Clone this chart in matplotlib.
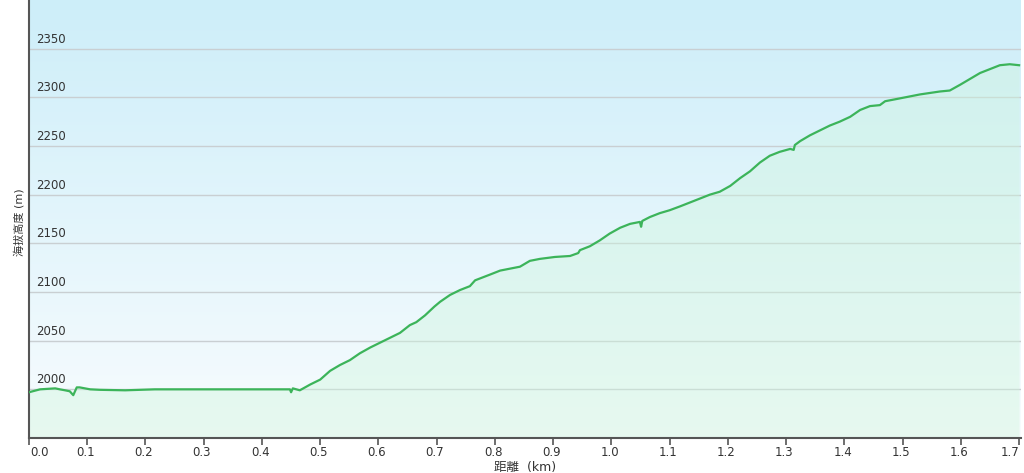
import numpy as np
import matplotlib
matplotlib.use('Agg')
import matplotlib.pyplot as plt
from matplotlib.colors import LinearSegmentedColormap

distancia_km = [0.000, 0.019, 0.045, 0.053, 0.062, 0.070, 0.076, 0.082, 0.087, 0.105,
                0.122, 0.165, 0.216, 0.300, 0.448, 0.450, 0.453, 0.465, 0.483, 0.500,
                0.517, 0.534, 0.551, 0.568, 0.586, 0.603, 0.620, 0.637, 0.654, 0.665,
                0.680, 0.696, 0.706, 0.723, 0.740, 0.757, 0.766, 0.792, 0.809, 0.826,
                0.843, 0.860, 0.877, 0.903, 0.929, 0.943, 0.946, 0.963, 0.980, 0.997,
                1.015, 1.032, 1.049, 1.051, 1.053, 1.066, 1.083, 1.100, 1.118, 1.152,
                1.169, 1.186, 1.204, 1.221, 1.238, 1.255, 1.272, 1.289, 1.307, 1.313,
                1.315, 1.324, 1.341, 1.358, 1.375, 1.392, 1.410, 1.427, 1.444, 1.461,
                1.470, 1.496, 1.530, 1.564, 1.581, 1.599, 1.616, 1.633, 1.650, 1.667,
                1.684, 1.700]
altitud_m = [1997, 2000, 2001, 2000, 1999, 1998, 1994, 2002, 2002, 2000,
             1999.5, 1999, 2000, 2000, 2000, 1997, 2001, 1999, 2005, 2010,
             2019, 2025, 2030, 2037, 2043, 2048, 2053, 2058, 2066, 2069,
             2076, 2085, 2090, 2097, 2102, 2106, 2112, 2118, 2122, 2124,
             2126, 2132, 2134, 2136, 2137, 2140, 2143, 2147, 2153, 2160,
             2166, 2170, 2172, 2167, 2173, 2177, 2181, 2184, 2188, 2196,
             2200, 2203, 2209, 2217, 2224, 2233, 2240, 2244, 2247, 2246,
             2251, 2255, 2261, 2266, 2271, 2275, 2280, 2287, 2291, 2292,
             2296, 2299, 2303, 2306, 2307, 2313, 2319, 2325, 2329, 2333,
             2334, 2333]

marcas_x = [0.0, 0.1, 0.2, 0.3, 0.4, 0.5, 0.6, 0.7, 0.8, 0.9, 1.0, 1.1, 1.2, 1.3, 1.4, 1.5, 1.6, 1.7]
marcas_y = [2000, 2050, 2100, 2150, 2200, 2250, 2300, 2350]

fuentes = ['DejaVu Sans', 'Noto Sans CJK JP']

fig = plt.figure(figsize=(10.24, 4.73), dpi=100)
ax = fig.add_axes([29 / 1024, 35 / 473, 992 / 1024, 438 / 473])

x_max = 1.7033
y_min, y_max = 1950, 2400

# Fondo degradado azul claro -> blanco
degradado = np.linspace(0, 1, 256).reshape(-1, 1)
cmap_fondo = LinearSegmentedColormap.from_list('fondo', ['#f8fcfe', '#cdeef9'])
ax.imshow(degradado, aspect='auto', cmap=cmap_fondo, origin='lower',
          extent=[0, x_max, y_min, y_max], zorder=0)

# Líneas de la cuadrícula
for v in marcas_y:
    ax.axhline(v, color='#c9cfd2', linewidth=1.0, zorder=1)

# Área bajo la curva y la curva
ax.fill_between(distancia_km, altitud_m, y_min, color='#cdf5dc', alpha=0.4, zorder=2, linewidth=0)
ax.plot(distancia_km, altitud_m, color='#3cb45a', linewidth=1.6, zorder=3)

ax.set_xlim(0, x_max)
ax.set_ylim(y_min, y_max)

# Etiquetas del eje Y dentro del gráfico
ax.set_yticks([])
for v in marcas_y:
    ax.text(0.012, v + 3, str(v), fontsize=8.5, color='#333333', ha='left', va='bottom', zorder=4)

# Marcas del eje X; las de los extremos se desplazan hacia dentro
ax.set_xticks(marcas_x)
ax.set_xticklabels([])
ax.tick_params(axis='x', direction='out', length=5, width=1.2, color='#555555')
for i, v in enumerate(marcas_x):
    if i == 0:
        alin, pos = 'left', v + 0.002
    elif i == len(marcas_x) - 1:
        alin, pos = 'right', v
    else:
        alin, pos = 'center', v - 0.003
    ax.text(pos, y_min - 8, f'{v:.1f}', fontsize=8.5, color='#333333',
            ha=alin, va='top', clip_on=False)

for lado in ['top', 'right']:
    ax.spines[lado].set_visible(False)
ax.spines['left'].set_color('#555555')
ax.spines['left'].set_linewidth(1.5)
ax.spines['bottom'].set_color('#555555')
ax.spines['bottom'].set_linewidth(1.5)

fig.text(19 / 1024, 1 - 222 / 473, '海拔高度 (m)', rotation=90, fontsize=8, color='#333333',
         ha='center', va='center', family=fuentes)
fig.text(525 / 1024, 1 - 467 / 473, '距離  (km)', fontsize=9, color='#333333',
         ha='center', va='center', family=fuentes)

plt.savefig('out.png', dpi=100)
